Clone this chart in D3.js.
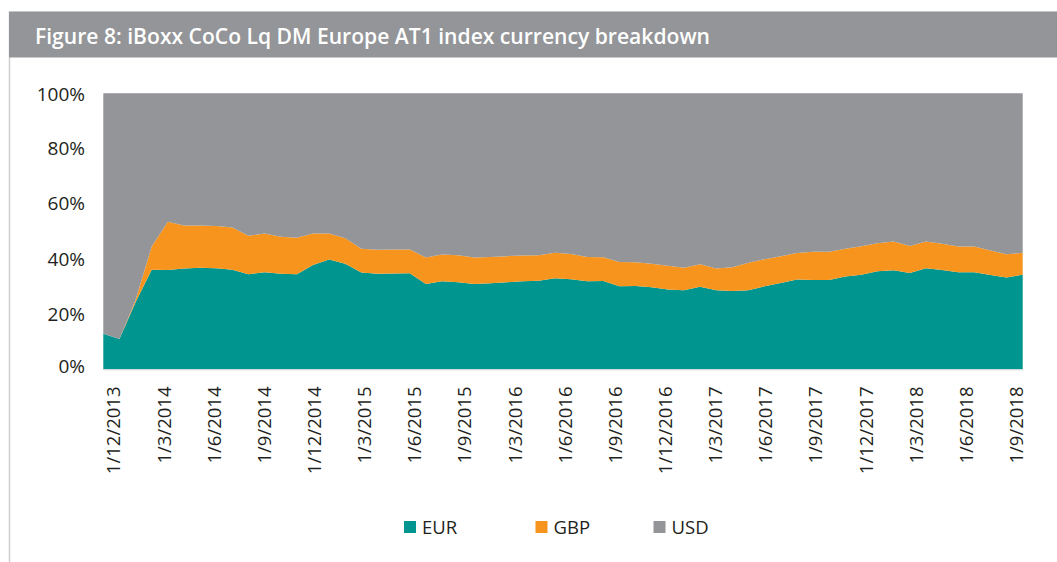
<!DOCTYPE html>
<html><head><meta charset="utf-8">
<script src="https://cdn.jsdelivr.net/npm/d3@7"></script>
<style>
html,body{margin:0;padding:0;background:#fff;}
svg{display:block;font-family:"Open Sans",sans-serif;}
</style></head>
<body>
<svg id="chart" width="1057" height="562"></svg>
<script>
const title = "Figure 8: iBoxx CoCo Lq DM Europe AT1 index currency breakdown";
const seriesNames = ["EUR", "GBP", "USD"];
const colors = ["#00968F", "#F7941E", "#939598"];
// monthly categories Dec 2013 .. Sep 2018
const months = d3.timeMonth.range(new Date(2013, 11, 1), new Date(2018, 9, 1));
const eur = [12.9,11.0,24.3,36.1,36.0,36.5,36.8,36.6,36.1,34.4,35.2,34.6,34.4,37.8,39.8,38.2,35.1,34.6,34.7,34.8,
  30.9,31.9,31.5,30.9,31.2,31.5,31.9,32.1,33.0,32.6,31.9,32.0,30.1,30.2,29.7,28.9,28.6,29.9,28.6,28.4,
  28.6,30.1,31.3,32.5,32.4,32.4,33.6,34.3,35.5,35.9,34.9,36.6,36.0,35.2,35.2,34.2,33.3,34.3];
const gbp = [0,0,0.8,8.4,17.5,15.6,15.3,15.3,15.3,14.0,14.0,13.4,13.3,11.4,9.4,9.3,8.6,8.7,8.7,8.6,
  9.6,9.7,9.8,9.6,9.5,9.5,9.3,9.2,9.2,9.2,8.8,8.6,8.8,8.6,8.5,8.6,8.2,8.2,7.9,8.6,
  10.0,9.8,9.7,9.6,10.2,10.2,10.1,10.3,10.2,10.4,9.8,9.7,9.5,9.3,9.3,8.8,8.4,7.9];
const usd = eur.map((e, i) => 100 - e - gbp[i]);
const xLabels = ["1/12/2013","1/3/2014","1/6/2014","1/9/2014","1/12/2014","1/3/2015","1/6/2015","1/9/2015",
  "1/3/2016","1/6/2016","1/9/2016","1/12/2016","1/3/2017","1/6/2017","1/9/2017","1/12/2017",
  "1/3/2018","1/6/2018","1/9/2018"];
const yTicks = [0, 20, 40, 60, 80, 100];

const svg = d3.select("#chart");

// frame: left rule and title bar
svg.append("line").attr("x1", 9.5).attr("x2", 9.5).attr("y1", 11).attr("y2", 562)
  .attr("stroke", "#cfcfcf").attr("stroke-width", 1.5);
svg.append("rect").attr("x", 9).attr("y", 11).attr("width", 1048).attr("height", 46.5).attr("fill", "#939598");
svg.append("line").attr("x1", 9).attr("x2", 1057).attr("y1", 11.5).attr("y2", 11.5).attr("stroke", "#c4c5c7").attr("stroke-width", 1);
svg.append("text").attr("x", 35).attr("y", 43.5).attr("fill", "#fff")
  .attr("font-size", 21).attr("font-weight", 600)
  .attr("textLength", 675).attr("lengthAdjust", "spacingAndGlyphs")
  .text(title);

const x = d3.scalePoint().domain(months.map((d, i) => i)).range([103.3, 1022.7]);
const y = d3.scaleLinear().domain([0, 100]).range([369.3, 93.3]);

const rows = months.map((d, i) => ({ EUR: eur[i], GBP: gbp[i], USD: usd[i], i }));
const stacked = d3.stack().keys(seriesNames)(rows);
const area = d3.area().x(d => x(d.data.i)).y0(d => y(d[0])).y1(d => y(d[1]));

svg.append("g").selectAll("path").data(stacked).join("path")
  .attr("d", area).attr("fill", (d, i) => colors[i]);

// x baseline
svg.append("line").attr("x1", 103.3).attr("x2", 1022.7).attr("y1", 369.8).attr("y2", 369.8)
  .attr("stroke", "#d6d6d6").attr("stroke-width", 1);

// y axis labels
svg.append("g").selectAll("text").data(yTicks).join("text")
  .attr("x", 85).attr("y", d => y(d) + (d === 0 ? -3 : d === 100 ? 1.5 : 0))
  .attr("dy", "0.35em").attr("text-anchor", "end")
  .attr("font-size", 19).attr("fill", "#231f20")
  .text(d => d + "%");

// x axis labels
const xl = d3.scalePoint().domain(xLabels).range([114, 1016.5]);
svg.append("g").selectAll("text").data(xLabels).join("text")
  .attr("transform", d => `translate(${xl(d)},386.5) rotate(-90)`)
  .attr("text-anchor", "end").attr("dy", "0.35em")
  .attr("font-size", 18.5).attr("fill", "#231f20")
  .text(d => d);

// legend
const legX = [404, 535.5, 653.5];
const leg = svg.append("g").selectAll("g").data(seriesNames).join("g")
  .attr("transform", (d, i) => `translate(${legX[i]},521)`);
leg.append("rect").attr("width", 12).attr("height", 12).attr("fill", (d, i) => colors[i]);
leg.append("text").attr("x", 18).attr("y", 6).attr("dy", "0.36em")
  .attr("font-size", 18.5).attr("fill", "#231f20").text(d => d);
</script>
</body></html>
